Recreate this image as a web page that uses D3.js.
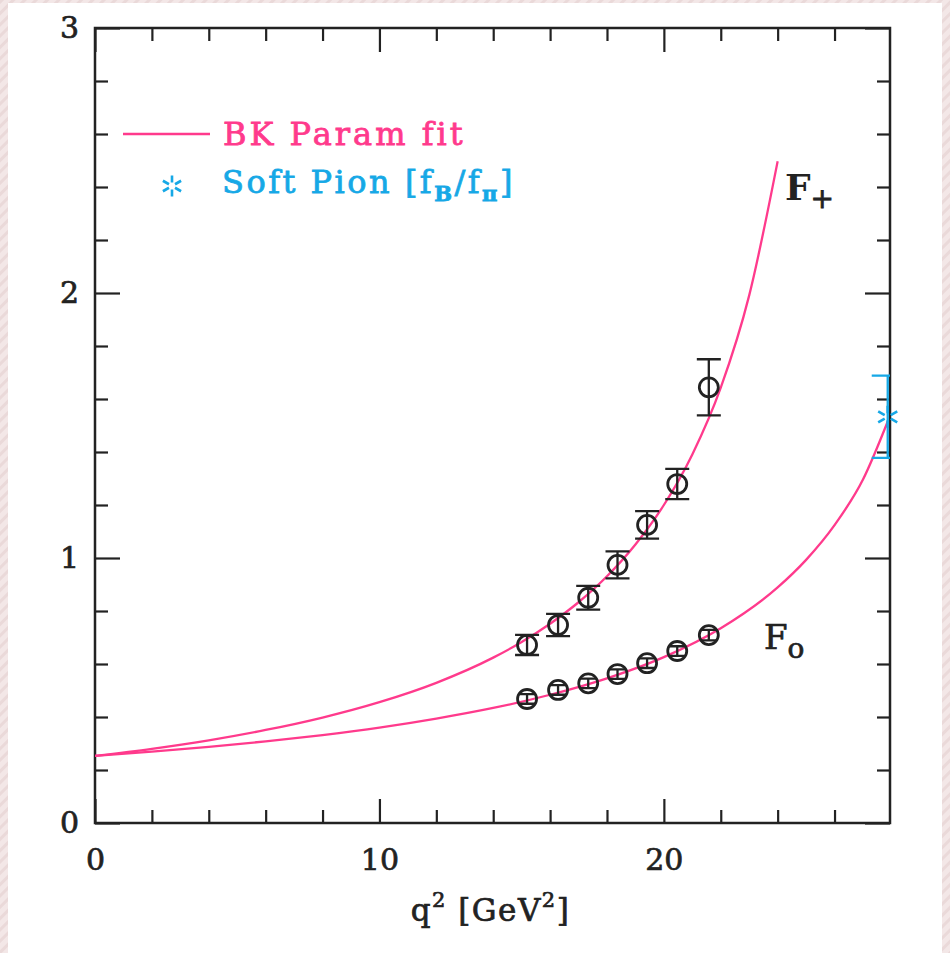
<!DOCTYPE html>
<html>
<head>
<meta charset="utf-8">
<script src="https://cdn.jsdelivr.net/npm/d3@7"></script>
<style>
  body { margin: 0; background: #f1e4e4; }
  svg { display: block; }
</style>
</head>
<body>
<script>

// lattice points (q^2 in GeV^2)
var q2Lat = [15.19, 16.28, 17.34, 18.37, 19.41, 20.47, 21.58];
var fPlus = [0.672, 0.747, 0.850, 0.974, 1.125, 1.279, 1.644];
var fPlusErr = [0.038, 0.042, 0.045, 0.051, 0.052, 0.057, 0.106];
var fZero = [0.468, 0.502, 0.527, 0.562, 0.603, 0.649, 0.709];
var fZeroErr = [0.018, 0.018, 0.018, 0.018, 0.018, 0.018, 0.02];

// BK fit curves
var fitQ2Plus = [0, 2, 4, 6, 8, 10, 12, 14, 15, 16, 17, 18, 19, 20, 21, 22, 23, 24];
var fitPlus = [0.253, 0.280, 0.312, 0.351, 0.398, 0.456, 0.529, 0.624, 0.683, 0.752, 0.833, 0.931, 1.051, 1.200, 1.391, 1.643, 1.991, 2.497];
var fitQ2Zero = [0, 2, 4, 6, 8, 10, 12, 14, 16, 18, 20, 22, 24, 25, 26, 27, 27.87];
var fitZero = [0.253, 0.269, 0.287, 0.308, 0.332, 0.360, 0.394, 0.434, 0.484, 0.546, 0.626, 0.735, 0.889, 0.993, 1.124, 1.296, 1.515];

// soft pion point at q^2 = mB^2
var softQ2 = [27.87];
var softVal = [1.533];
var softErr = [0.155];

var xMajor = [0, 10, 20];
var xMinor = [2, 4, 6, 8, 12, 14, 16, 18, 22, 24, 26];
var yMajor = [0, 1, 2, 3];
var yMinor = [0.2, 0.4, 0.6, 0.8, 1.2, 1.4, 1.6, 1.8, 2.2, 2.4, 2.6, 2.8];

var W = 950, H = 953;
var plotL = 95, plotR = 890, plotT = 28, plotB = 823;
var pink = "#ff3a8c", cyan = "#16a8e6", ink = "#222";
var serif = "'DejaVu Serif', serif";

var svg = d3.select("body").append("svg")
    .attr("width", W)
    .attr("height", H);

// pinkish page background with white panel
var defs = svg.append("defs");
var pat = defs.append("pattern")
    .attr("id", "hatch")
    .attr("width", 8).attr("height", 8)
    .attr("patternUnits", "userSpaceOnUse")
    .attr("patternTransform", "rotate(45)");
pat.append("rect").attr("width", 8).attr("height", 8).attr("fill", "#f3e7e7");
pat.append("rect").attr("width", 3).attr("height", 8).attr("fill", "#ead9d9");
svg.append("rect").attr("width", W).attr("height", H).attr("fill", "url(#hatch)");
svg.append("rect").attr("x", 8).attr("y", 3).attr("width", 934).attr("height", 950).attr("fill", "#fff");

defs.append("clipPath").attr("id", "plotclip")
  .append("rect")
    .attr("x", plotL).attr("y", plotT)
    .attr("width", plotR - plotL).attr("height", plotB - plotT);

var x = d3.scaleLinear().domain([0, 27.95]).range([plotL, plotR]);
var y = d3.scaleLinear().domain([0, 3]).range([plotB, plotT]);

// axes: ticks pointing inward on all four sides
function styleAxis(g) {
  g.select(".domain").remove();
  g.selectAll(".tick line").attr("stroke", ink).attr("stroke-width", 2.2);
  g.selectAll(".tick text").attr("fill", ink).attr("font-family", serif).attr("font-size", 30)
      .attr("stroke", ink).attr("stroke-width", 0.7);
}

svg.append("g").attr("transform", "translate(0," + plotB + ")")
    .call(d3.axisBottom(x).tickValues(xMajor).tickSizeInner(-24).tickSizeOuter(0).tickPadding(26).tickFormat(d3.format("d")))
    .call(styleAxis);
svg.append("g").attr("transform", "translate(0," + plotB + ")")
    .call(d3.axisBottom(x).tickValues(xMinor).tickSizeInner(-13).tickSizeOuter(0).tickFormat(""))
    .call(styleAxis);
svg.append("g").attr("transform", "translate(0," + plotT + ")")
    .call(d3.axisTop(x).tickValues(xMajor).tickSizeInner(-24).tickSizeOuter(0).tickFormat(""))
    .call(styleAxis);
svg.append("g").attr("transform", "translate(0," + plotT + ")")
    .call(d3.axisTop(x).tickValues(xMinor).tickSizeInner(-13).tickSizeOuter(0).tickFormat(""))
    .call(styleAxis);

svg.append("g").attr("transform", "translate(" + plotL + ",0)")
    .call(d3.axisLeft(y).tickValues(yMajor).tickSizeInner(-25).tickSizeOuter(0).tickPadding(16).tickFormat(d3.format("d")))
    .call(styleAxis);
svg.append("g").attr("transform", "translate(" + plotL + ",0)")
    .call(d3.axisLeft(y).tickValues(yMinor).tickSizeInner(-13).tickSizeOuter(0).tickFormat(""))
    .call(styleAxis);
svg.append("g").attr("transform", "translate(" + plotR + ",0)")
    .call(d3.axisRight(y).tickValues(yMajor).tickSizeInner(-25).tickSizeOuter(0).tickFormat(""))
    .call(styleAxis);
svg.append("g").attr("transform", "translate(" + plotR + ",0)")
    .call(d3.axisRight(y).tickValues(yMinor).tickSizeInner(-13).tickSizeOuter(0).tickFormat(""))
    .call(styleAxis);

// frame
svg.append("rect")
    .attr("x", plotL).attr("y", plotT)
    .attr("width", plotR - plotL).attr("height", plotB - plotT)
    .attr("fill", "none").attr("stroke", ink).attr("stroke-width", 2.5);

// x axis title
var xt = svg.append("text")
    .attr("x", (plotL + plotR) / 2 - 2).attr("y", 921)
    .attr("text-anchor", "middle")
    .attr("font-family", serif).attr("font-size", 31).attr("fill", ink)
    .attr("stroke", ink).attr("stroke-width", 0.7)
    .attr("letter-spacing", 1.5);
xt.append("tspan").text("q");
xt.append("tspan").attr("font-size", 21).attr("dy", -14).text("2");
xt.append("tspan").attr("dy", 14).text(" [GeV");
xt.append("tspan").attr("font-size", 21).attr("dy", -14).text("2");
xt.append("tspan").attr("dy", 14).text("]");

// fit curves
var line = d3.line().curve(d3.curveMonotoneX);
var plot = svg.append("g").attr("clip-path", "url(#plotclip)");

plot.append("path")
    .attr("d", line(fitQ2Plus.map(function(d, i){ return [x(d), y(fitPlus[i])]; })))
    .attr("fill", "none").attr("stroke", pink).attr("stroke-width", 2.3);
plot.append("path")
    .attr("d", line(fitQ2Zero.map(function(d, i){ return [x(d), y(fitZero[i])]; })))
    .attr("fill", "none").attr("stroke", pink).attr("stroke-width", 2.3);

// soft pion error bar (clipped at the right frame)
softQ2.forEach(function(q, i) {
  var cx = x(q), y1 = y(softVal[i] + softErr[i]), y2 = y(softVal[i] - softErr[i]);
  plot.append("path")
      .attr("d", "M" + (cx - 16) + "," + y1 + "H" + (cx + 16) + "M" + cx + "," + y1 + "V" + y2 + "M" + (cx - 16) + "," + y2 + "H" + (cx + 16))
      .attr("fill", "none").attr("stroke", cyan).attr("stroke-width", 2.3);
});

// lattice points with error bars
function drawPoints(vals, errs, cap) {
  var g = svg.append("g");
  q2Lat.forEach(function(q, i) {
    var cx = x(q), y1 = y(vals[i] + errs[i]), y2 = y(vals[i] - errs[i]);
    g.append("path")
        .attr("d", "M" + (cx - cap) + "," + y1 + "H" + (cx + cap) + "M" + cx + "," + y1 + "V" + y2 + "M" + (cx - cap) + "," + y2 + "H" + (cx + cap))
        .attr("fill", "none").attr("stroke", ink).attr("stroke-width", 2.3);
    g.append("circle")
        .attr("cx", cx).attr("cy", y(vals[i])).attr("r", 9.5)
        .attr("fill", "none").attr("stroke", ink).attr("stroke-width", 2.8);
  });
}
drawPoints(fPlus, fPlusErr, 12);
drawPoints(fZero, fZeroErr, 8);

// asterisk marker with open centre
function star(g, cx, cy, r0, r1) {
  var p = "";
  [90, 270, 30, 150, 210, 330].forEach(function(a) {
    var t = a * Math.PI / 180;
    p += "M" + (cx + r0 * Math.cos(t)) + "," + (cy - r0 * Math.sin(t)) +
         "L" + (cx + r1 * Math.cos(t)) + "," + (cy - r1 * Math.sin(t));
  });
  g.append("path").attr("d", p).attr("stroke", cyan).attr("stroke-width", 2.6).attr("fill", "none");
}
softQ2.forEach(function(q, i) { star(svg, x(q), y(softVal[i]), 3.5, 11); });

// curve labels
var lp = svg.append("text")
    .attr("x", x(24.26)).attr("y", y(2.351))
    .attr("font-family", serif).attr("font-weight", "bold").attr("font-size", 36).attr("fill", ink);
lp.append("tspan").text("F");
lp.append("tspan").attr("font-size", 28).attr("font-weight", "normal").attr("stroke", ink).attr("stroke-width", 0.8).attr("dy", 8).text("+");

var l0 = svg.append("text")
    .attr("x", x(23.52)).attr("y", y(0.657))
    .attr("font-family", serif).attr("font-size", 34).attr("fill", ink)
    .attr("stroke", ink).attr("stroke-width", 0.7);
l0.append("tspan").text("F");
l0.append("tspan").attr("font-size", 28).attr("dy", 9).text("o");

// legend
svg.append("line")
    .attr("x1", 123).attr("x2", 210).attr("y1", 134).attr("y2", 134)
    .attr("stroke", pink).attr("stroke-width", 2.3);
svg.append("text")
    .attr("x", 223).attr("y", 145)
    .attr("font-family", serif).attr("font-size", 32).attr("fill", pink)
    .attr("stroke", pink).attr("stroke-width", 0.8)
    .attr("letter-spacing", 3)
    .text("BK Param fit");

star(svg, 172, 186, 3.5, 10.5);
var st = svg.append("text")
    .attr("x", 222).attr("y", 193)
    .attr("font-family", serif).attr("font-size", 32).attr("fill", cyan)
    .attr("stroke", cyan).attr("stroke-width", 0.8)
    .attr("letter-spacing", 2.5);
st.append("tspan").text("Soft Pion [f");
st.append("tspan").attr("font-size", 21).attr("font-weight", "bold").attr("dy", 8).text("B");
st.append("tspan").attr("dy", -8).text("/f");
st.append("tspan").attr("font-size", 21).attr("font-weight", "bold").attr("dy", 8).text("π");
st.append("tspan").attr("dy", -8).text("]");

</script>
</body>
</html>
